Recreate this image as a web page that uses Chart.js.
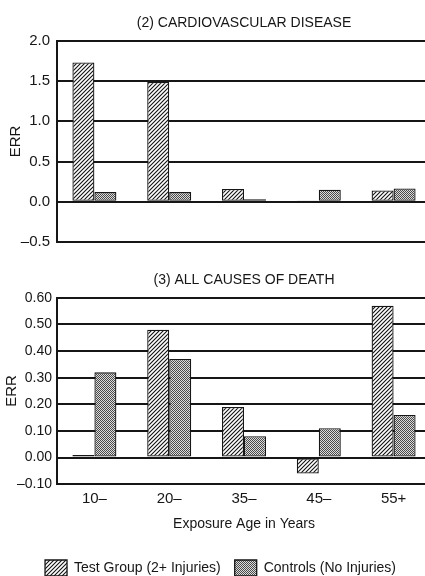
<!DOCTYPE html>
<html>
<head>
<meta charset="utf-8">
<script src="https://cdn.jsdelivr.net/npm/chart.js@4.4.1/dist/chart.umd.min.js"></script>
<style>
  body { margin: 0; background: #fff; overflow: hidden; width: 425px; height: 576px; }
  .box { position: absolute; left: 0; }
</style>
</head>
<body>
<div class="box" style="top:0"><canvas id="cardio" width="431" height="258"></canvas></div>
<div class="box" style="top:250px"><canvas id="allCauses" width="431" height="336"></canvas></div>
<script>
const categories = ["10–", "20–", "35–", "45–", "55+"];
const cardioTest = [1.73, 1.49, 0.16, 0.01, 0.14];
const cardioCtrl = [0.12, 0.12, 0.03, 0.15, 0.165];
const allTest = [0.01, 0.48, 0.19, -0.06, 0.57];
const allCtrl = [0.32, 0.37, 0.08, 0.11, 0.16];
const cardioTicks = [-0.5, 0, 0.5, 1.0, 1.5, 2.0];
const allTicks = [-0.1, 0, 0.1, 0.2, 0.3, 0.4, 0.5, 0.6];

const FONT = "'Liberation Sans', Arial, sans-serif";
const INK = "#161616";

// hatch ///
function hatchPattern() {
  const c = document.createElement("canvas");
  c.width = 4; c.height = 4;
  const g = c.getContext("2d");
  g.fillStyle = "#fff";
  g.fillRect(0, 0, 4, 4);
  g.strokeStyle = "#111";
  g.lineWidth = 1.1;
  g.beginPath();
  g.moveTo(-1, 5); g.lineTo(5, -1);
  g.moveTo(-1, 1); g.lineTo(1, -1);
  g.moveTo(3, 5); g.lineTo(5, 3);
  g.stroke();
  return g.createPattern(c, "repeat");
}

// stipple gray
function dotPattern() {
  const c = document.createElement("canvas");
  c.width = 2; c.height = 2;
  const g = c.getContext("2d");
  g.fillStyle = "#dcdcdc";
  g.fillRect(0, 0, 2, 2);
  g.fillStyle = "#4a4a4a";
  g.fillRect(0, 0, 1, 1);
  g.fillRect(1, 1, 1, 1);
  return g.createPattern(c, "repeat");
}

const hatch = hatchPattern();
const dots = dotPattern();

function fmt(v, d) {
  const s = Math.abs(v).toFixed(d);
  return v < 0 ? "–" + s : s;
}

function makeChart(id, title, test, ctrl, ticks, digits, bottomPanel) {
  // bottom panel: 10px left padding only to push the legend right, axis width keeps plot at x=57
  const padLeft = bottomPanel ? 10 : 0;
  return new Chart(document.getElementById(id), {
    type: "bar",
    data: {
      labels: categories,
      datasets: [
        {
          label: "Test Group (2+ Injuries)",
          data: test,
          backgroundColor: hatch,
          borderColor: INK,
          borderWidth: 1.3,
          borderSkipped: false,
        },
        {
          label: "Controls (No Injuries)",
          data: ctrl,
          backgroundColor: dots,
          borderColor: INK,
          borderWidth: 1.3,
          borderSkipped: false,
        },
      ],
    },
    options: {
      responsive: false,
      animation: false,
      categoryPercentage: 0.588,
      barPercentage: 1,
      layout: { padding: { left: padLeft, right: 0, top: 0, bottom: 0 } },
      plugins: {
        tooltip: { enabled: false },
        title: {
          display: true,
          fullSize: false,
          text: title,
          color: INK,
          font: { family: FONT, size: 14, weight: "normal" },
          padding: bottomPanel ? { top: 22, bottom: 9 } : { top: 15, bottom: 9 },
        },
        legend: {
          display: bottomPanel,
          position: "bottom",
          labels: {
            color: INK,
            font: { family: FONT, size: 14 },
            boxWidth: 22,
            boxHeight: 16,
            padding: 14,
          },
        },
      },
      scales: {
        x: {
          display: bottomPanel,
          grid: { display: false, drawTicks: false },
          border: { display: false },
          ticks: { color: INK, font: { family: FONT, size: 15 }, padding: 6 },
          title: {
            display: true,
            text: "Exposure Age in Years",
            color: INK,
            font: { family: FONT, size: 14 },
            padding: { top: 2, bottom: 13 },
          },
        },
        y: {
          min: ticks[0],
          max: ticks[ticks.length - 1],
          afterBuildTicks: (scale) => {
            scale.ticks = ticks.map((v) => ({ value: v }));
          },
          afterFit: (scale) => {
            scale.width = 57 - padLeft;
          },
          grid: { color: INK, lineWidth: 2, drawTicks: false },
          border: { display: true, color: INK, width: 2 },
          ticks: {
            color: INK,
            font: { family: FONT, size: bottomPanel ? 14 : 15 },
            padding: bottomPanel ? 5 : 7,
            callback: (v) => fmt(v, digits),
          },
          title: {
            display: true,
            text: "ERR",
            color: INK,
            font: { family: FONT, size: 15 },
            padding: { top: bottomPanel ? 3 - padLeft : 7, bottom: 0 },
          },
        },
      },
    },
  });
}

makeChart("cardio", "(2) CARDIOVASCULAR DISEASE", cardioTest, cardioCtrl, cardioTicks, 1, false);
makeChart("allCauses", "(3) ALL CAUSES OF DEATH", allTest, allCtrl, allTicks, 2, true);
</script>
</body>
</html>
